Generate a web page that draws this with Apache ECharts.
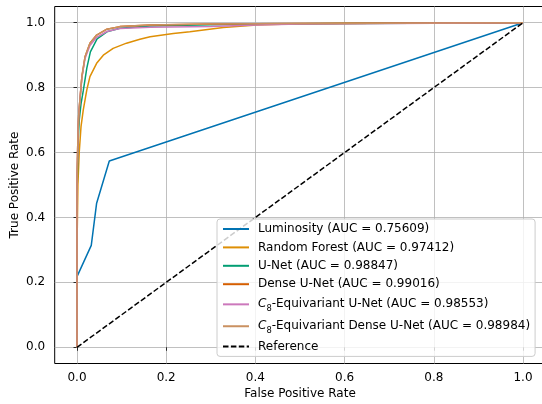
<!DOCTYPE html>
<html>
<head>
<meta charset="utf-8">
<script src="https://cdn.jsdelivr.net/npm/echarts@6/dist/echarts.min.js"></script>
<style>html,body{margin:0;padding:0;background:#fff}#c{width:542px;height:404px}</style>
</head>
<body>
<div id="c"></div>
<script>
// ---- data ----
var tickValues = [0, 0.2, 0.4, 0.6, 0.8, 1.0];
var tickLabels = ['0.0', '0.2', '0.4', '0.6', '0.8', '1.0'];

var seriesNames = [
  'Luminosity (AUC = 0.75609)',
  'Random Forest (AUC = 0.97412)',
  'U-Net (AUC = 0.98847)',
  'Dense U-Net (AUC = 0.99016)',
  'C8-Equivariant U-Net (AUC = 0.98553)',
  'C8-Equivariant Dense U-Net (AUC = 0.98984)',
  'Reference'
];
var seriesColors = ['#0173b2', '#de8f05', '#029e73', '#d55e00', '#cc78bc', '#ca9161', '#000000'];

var lumFpr = [0, 0, 0.032, 0.044, 0.0724, 1];
var lumTpr = [0, 0.2175, 0.314, 0.444, 0.574, 1];

var rfFpr = [0, 0, 0.002, 0.005, 0.009, 0.014, 0.022, 0.029, 0.044, 0.059, 0.081, 0.111, 0.141, 0.164, 0.216, 0.253, 0.328, 0.403, 0.477, 0.6, 0.8, 1];
var rfTpr = [0, 0.3, 0.5, 0.6, 0.68, 0.731, 0.793, 0.834, 0.875, 0.900, 0.921, 0.937, 0.949, 0.957, 0.967, 0.972, 0.985, 0.993, 0.996, 0.998, 0.999, 1];

var unetFpr = [0, 0, 0.002, 0.005, 0.009, 0.014, 0.022, 0.030, 0.045, 0.067, 0.096, 0.164, 0.3, 0.5, 1];
var unetTpr = [0, 0.45, 0.62, 0.70, 0.75, 0.79, 0.86, 0.91, 0.95, 0.972, 0.983, 0.990, 0.994, 0.997, 1];

var denseFpr = [0, 0, 0.002, 0.004, 0.007, 0.011, 0.018, 0.029, 0.044, 0.067, 0.096, 0.164, 0.3, 0.5, 1];
var denseTpr = [0, 0.5, 0.65, 0.72, 0.77, 0.835, 0.895, 0.937, 0.962, 0.980, 0.988, 0.993, 0.996, 0.998, 1];

var c8Fpr = [0, 0, 0.002, 0.004, 0.007, 0.011, 0.018, 0.029, 0.044, 0.067, 0.096, 0.164, 0.3, 0.4, 0.5, 1];
var c8Tpr = [0, 0.5, 0.65, 0.72, 0.77, 0.83, 0.89, 0.93, 0.955, 0.973, 0.982, 0.986, 0.988, 0.993, 0.996, 1];

var c8DenseFpr = [0, 0, 0.002, 0.004, 0.007, 0.011, 0.018, 0.029, 0.044, 0.067, 0.096, 0.164, 0.3, 0.5, 1];
var c8DenseTpr = [0, 0.5, 0.65, 0.72, 0.77, 0.834, 0.895, 0.937, 0.962, 0.980, 0.988, 0.993, 0.996, 0.998, 1];

var refFpr = [0, 1];
var refTpr = [0, 1];

// ---- build ----
function pairs(xs, ys) { return xs.map(function (x, i) { return [x, ys[i]]; }); }
var allData = [
  pairs(lumFpr, lumTpr), pairs(rfFpr, rfTpr), pairs(unetFpr, unetTpr),
  pairs(denseFpr, denseTpr), pairs(c8Fpr, c8Tpr), pairs(c8DenseFpr, c8DenseTpr),
  pairs(refFpr, refTpr)
];

var FONT = '"DejaVu Sans"';
var FS = 12;

var series = allData.map(function (d, i) {
  var isRef = i === 6;
  return {
    name: seriesNames[i],
    type: 'line',
    data: d,
    symbol: 'none',
    showSymbol: false,
    animation: false,
    silent: true,
    lineStyle: {
      color: seriesColors[i],
      width: 1.5,
      type: isRef ? [5.5, 2.4] : 'solid'
    },
    itemStyle: { color: seriesColors[i] }
  };
});

function labelFor(v) {
  for (var i = 0; i < tickValues.length; i++) {
    if (Math.abs(tickValues[i] - v) < 1e-9) return tickLabels[i];
  }
  return '';
}

function axisCommon(isX) {
  return {
    type: 'value',
    min: -0.05,
    max: 1.05,
    axisLine: { show: false },
    axisTick: {
      show: true, inside: false, length: 3.5, customValues: tickValues,
      lineStyle: { color: '#000', width: 0.8 }
    },
    axisLabel: {
      customValues: tickValues,
      formatter: function (v) { return labelFor(v); },
      color: '#000', fontFamily: FONT, fontSize: FS,
      margin: isX ? 8 : 9.5
    },
    splitLine: { show: true, lineStyle: { color: '#b0b0b0', width: 0.8 } },
    nameLocation: 'middle',
    nameMoveOverlap: false,
    nameTextStyle: { color: '#000', fontFamily: FONT, fontSize: FS }
  };
}

var xAxis = axisCommon(true);
xAxis.name = 'False Positive Rate';
xAxis.nameGap = 24;
var yAxis = axisCommon(false);
yAxis.name = 'True Positive Rate';
yAxis.nameGap = 34;

var chart = echarts.init(document.getElementById('c'), null, { renderer: 'canvas' });
chart.setOption({
  animation: false,
  backgroundColor: '#fff',
  textStyle: { fontFamily: FONT, fontSize: FS, color: '#000' },
  grid: {
    left: 54.7, top: 6.5, width: 490.6, height: 357,
    containLabel: false,
    outerBoundsMode: 'none',
    show: true, borderColor: '#000', borderWidth: 1, backgroundColor: 'transparent'
  },
  xAxis: xAxis,
  yAxis: yAxis,
  legend: {
    orient: 'vertical',
    left: 217, top: 219,
    padding: [3, 5, 3, 5],
    itemGap: 4.4,
    itemWidth: 26,
    itemHeight: 14,
    backgroundColor: 'rgba(255,255,255,0.8)',
    borderColor: '#cccccc',
    borderWidth: 1,
    borderRadius: 3,
    selectedMode: false,
    itemStyle: { opacity: 0 },
    data: seriesNames,
    formatter: function (name) {
      if (/^C8/.test(name)) return '{i|C}{s|8}{t|' + name.slice(2) + '}';
      return '{t|' + name + '}';
    },
    textStyle: {
      color: '#000', fontFamily: FONT, fontSize: FS, lineHeight: 14,
      padding: [0, 0, 0, 4],
      rich: {
        t: { fontFamily: FONT, fontSize: FS, fontStyle: 'normal', color: '#000', lineHeight: 14 },
        i: { fontStyle: 'italic', fontFamily: FONT, fontSize: FS, color: '#000', lineHeight: 17.5 },
        s: { fontFamily: FONT, fontSize: 8.4, fontStyle: 'normal', color: '#000', lineHeight: 12, verticalAlign: 'bottom' }
      }
    }
  },
  series: series
});
</script>
</body>
</html>
